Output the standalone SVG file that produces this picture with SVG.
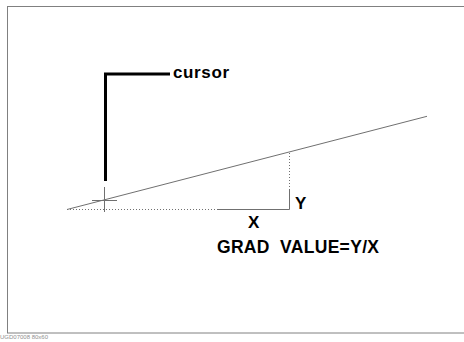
<svg xmlns="http://www.w3.org/2000/svg" width="464" height="342" viewBox="0 0 464 342">
<style>
.thin{stroke:#707070;stroke-width:1;fill:none}
.dot{stroke:#707070;stroke-width:1;fill:none;stroke-dasharray:1 2}
.lbl{font-family:"Liberation Sans",Arial,sans-serif;font-weight:bold;fill:#000}
</style>
<rect x="7.5" y="6.5" width="460" height="326.5" fill="none" stroke="#808080" stroke-width="1"/>
<g id="cursor">
<polyline points="105.5,181 105.5,74 170,74" fill="none" stroke="#000" stroke-width="3"/>
<text class="lbl" x="173" y="78" font-size="17" textLength="56" lengthAdjust="spacing">cursor</text>
</g>
<g id="crosshair">
<line class="thin" x1="104.5" y1="187" x2="104.5" y2="212"/>
<line class="thin" x1="92" y1="200.5" x2="117" y2="200.5"/>
</g>
<g id="connectors">
<line class="thin" x1="67" y1="209.5" x2="427" y2="116.3"/>
<line class="dot" x1="67" y1="209.5" x2="217" y2="209.5"/>
<polyline class="thin" points="217,209.5 289.5,209.5 289.5,190"/>
<line class="dot" x1="289.5" y1="190" x2="289.5" y2="153"/>
</g>
<g id="labels">
<text class="lbl" x="295" y="209" font-size="17">Y</text>
<text class="lbl" x="248" y="228" font-size="17">X</text>
<text class="lbl" x="217" y="253" font-size="17.5" xml:space="preserve" textLength="162" lengthAdjust="spacing">GRAD  VALUE=Y/X</text>
</g>
<text x="0" y="339" font-family="Liberation Sans,Arial,sans-serif" font-size="6" fill="#909090">UGD07008 80x60</text>
</svg>
